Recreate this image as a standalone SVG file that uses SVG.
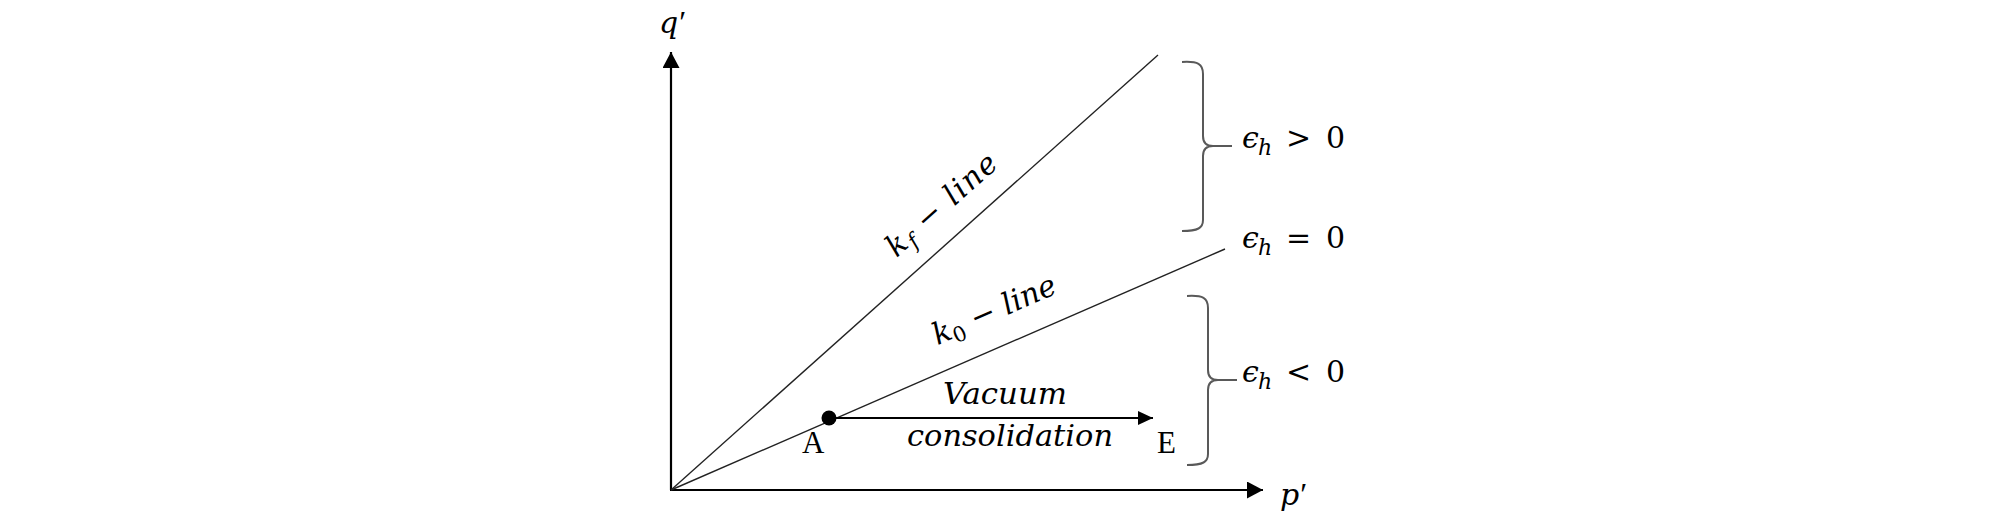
<svg xmlns="http://www.w3.org/2000/svg" width="2008" height="518" viewBox="0 0 2008 518">
<style>
.t{font-family:"Liberation Serif","DejaVu Serif",serif;font-size:31px;fill:#000}
.m{font-family:"DejaVu Serif","Liberation Serif",serif;font-size:30px;font-style:italic;fill:#000}
.u{font-style:normal}
.pr{font-family:"Liberation Serif","DejaVu Serif",serif;font-style:normal;font-size:32px}
.ax{stroke:#000;stroke-width:2.2;fill:none}
.ln{stroke:#222;stroke-width:1.4;fill:none}
.br{stroke:#595959;stroke-width:2;fill:none}
</style>
<defs>
<marker id="axh" markerUnits="userSpaceOnUse" markerWidth="18" markerHeight="18" refX="16" refY="8.5" orient="auto">
<path d="M0,0 L16,8.5 L0,17 Z" fill="#000"/>
</marker>
<marker id="arh" markerUnits="userSpaceOnUse" markerWidth="16" markerHeight="16" refX="15" refY="7" orient="auto">
<path d="M0,0 L15,7 L0,14 Z" fill="#000"/>
</marker>
</defs>
<rect width="2008" height="518" fill="#fff"/>
<g id="connectors">
<line class="ax" x1="671" y1="490" x2="671" y2="52" marker-end="url(#axh)"/>
<line class="ax" x1="670" y1="490" x2="1263" y2="490" marker-end="url(#axh)"/>
<line class="ln" x1="671" y1="490" x2="1158" y2="55"/>
<line class="ln" x1="671" y1="490" x2="1225" y2="249"/>
<line x1="829" y1="418" x2="1153" y2="418" stroke="#000" stroke-width="1.8" marker-end="url(#arh)"/>
</g>
<g id="axis-labels">
<text class="m" x="659" y="33">q<tspan class="pr" dx="1">′</tspan></text>
<text class="m" x="1280" y="505">p<tspan class="pr" dx="1">′</tspan></text>
</g>
<g id="kf-line-label">
<text class="m" transform="translate(948,212) rotate(-41.7)" text-anchor="middle" textLength="138" lengthAdjust="spacing">k<tspan font-size="21" dy="6">f</tspan><tspan dy="-6"> − line</tspan></text>
</g>
<g id="k0-line-label">
<text class="m" transform="translate(998,319) rotate(-23.4)" text-anchor="middle" textLength="132" lengthAdjust="spacing">k<tspan class="u" font-size="21" dy="6">0</tspan><tspan dy="-6"> − line</tspan></text>
</g>
<g id="point-A">
<circle cx="829" cy="418" r="7.5" fill="#000"/>
<text class="t" x="802" y="453">A</text>
</g>
<g id="point-E">
<text class="t" x="1157" y="453">E</text>
</g>
<g id="vacuum-label">
<text class="m" x="943" y="404" textLength="124" lengthAdjust="spacingAndGlyphs">Vacuum</text>
<text class="m" x="907" y="446" textLength="206" lengthAdjust="spacingAndGlyphs">consolidation</text>
</g>
<g id="brace-upper">
<path class="br" d="M1182,62 C1198,61 1203,64 1203,74 L1203,136 C1203,143 1206,146 1213,146 L1232,146 M1213,146 C1206,146 1203,149 1203,156 L1203,220 C1203,228 1198,231 1182,231"/>
<text class="m" y="148"><tspan x="1242">ϵ</tspan><tspan x="1258" font-size="22" dy="7">h</tspan><tspan class="u" x="1286" dy="-7">&gt;</tspan><tspan class="u" x="1326">0</tspan></text>
</g>
<g id="eh-zero">
<text class="m" y="248"><tspan x="1242">ϵ</tspan><tspan x="1258" font-size="22" dy="7">h</tspan><tspan class="u" x="1286" dy="-7">=</tspan><tspan class="u" x="1326">0</tspan></text>
</g>
<g id="brace-lower">
<path class="br" d="M1187,296 C1203,295 1208,298 1208,308 L1208,370 C1208,377 1211,380 1218,380 L1237,380 M1218,380 C1211,380 1208,383 1208,390 L1208,454 C1208,462 1203,465 1187,465"/>
<text class="m" y="382"><tspan x="1242">ϵ</tspan><tspan x="1258" font-size="22" dy="7">h</tspan><tspan class="u" x="1286" dy="-7">&lt;</tspan><tspan class="u" x="1326">0</tspan></text>
</g>
</svg>
